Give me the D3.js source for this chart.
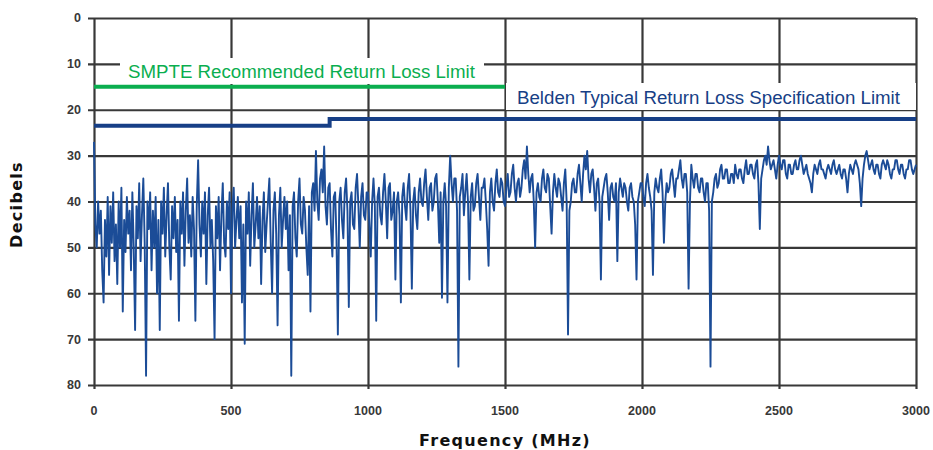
<!DOCTYPE html>
<html lang="en">
    <head>
        <meta charset="utf-8">
        <title>Return Loss</title>
        <script src="https://d3js.org/d3.v7.min.js"></script>
        <style type="text/css">
            body { margin: 0; background: #fff; }

            .grid line {
                stroke: #383838;
                stroke-width: 2.2px;
            }
            .grid path { display: none; }

            .tick-label {
                font-family: "Liberation Sans", Arial, sans-serif;
                font-size: 12.5px;
                font-weight: bold;
                fill: #383838;
            }

            .axis-title {
                font-family: "DejaVu Sans", Verdana, sans-serif;
                font-size: 16px;
                font-weight: bold;
                letter-spacing: 1.3px;
                fill: #111;
            }

            .trace {
                fill: none;
                stroke: #1b4c97;
                stroke-width: 1.9px;
                stroke-linejoin: round;
            }

            .limit-label {
                font-family: "Liberation Sans", Arial, sans-serif;
                font-size: 18.7px;
            }
        </style>
    </head>
    <body>
        <script type="text/javascript">

            const w = 933;
            const h = 450;
            const margin = {top: 18, right: 17, bottom: 65, left: 94};

            // measured return loss (dB), one reading every 5 MHz from 0 to 3000 MHz
            const freqStep = 5;
            const returnLoss = [
                27, 45, 50, 40, 47, 42, 55, 62, 44, 52, 39, 56, 41, 49, 38, 53, 45, 58, 40, 50,
                37, 64, 44, 51, 39, 47, 42, 55, 38, 50, 68, 41, 48, 36, 53, 43, 35, 49, 78, 40,
                46, 38, 55, 42, 50, 39, 60, 44, 68, 40, 47, 37, 52, 43, 36, 50, 57, 41, 48, 39,
                51, 44, 66, 40, 47, 38, 54, 42, 35, 49, 43, 52, 39, 46, 66, 41, 31, 45, 52, 40,
                47, 38, 58, 43, 37, 50, 44, 53, 70, 41, 48, 39, 55, 43, 36, 49, 52, 40, 46, 38,
                60, 42, 37, 50, 44, 39, 48, 41, 62, 45, 71, 40, 47, 38, 54, 43, 36, 50, 45, 39,
                48, 41, 58, 44, 38, 51, 45, 40, 35, 49, 60, 42, 38, 47, 67, 43, 37, 50, 44, 39,
                46, 40, 55, 43, 78, 41, 38, 48, 52, 40, 35, 45, 47, 39, 42, 50, 56, 41, 64, 38,
                36, 42, 29, 40, 44, 35, 33, 38, 28, 41, 45, 37, 36, 46, 52, 39, 38, 48, 69, 40,
                37, 44, 48, 38, 35, 42, 63, 40, 38, 45, 46, 37, 34, 41, 50, 39, 36, 43, 44, 38,
                38, 45, 52, 40, 35, 41, 66, 39, 37, 43, 45, 38, 34, 40, 48, 37, 36, 44, 42, 38,
                57, 40, 38, 43, 62, 39, 36, 41, 44, 37, 34, 42, 59, 40, 37, 43, 46, 38, 35, 40,
                41, 36, 33, 39, 44, 37, 36, 42, 40, 35, 34, 40, 49, 38, 61, 40, 36, 41, 62, 37,
                30, 36, 40, 35, 35, 42, 76, 39, 37, 34, 43, 38, 34, 40, 57, 39, 36, 42, 41, 36,
                34, 39, 44, 37, 37, 35, 40, 46, 54, 38, 35, 40, 42, 36, 33, 38, 39, 35, 36, 40,
                41, 37, 34, 39, 38, 34, 32, 37, 40, 36, 35, 39, 37, 33, 31, 35, 28, 34, 38, 35,
                34, 40, 50, 38, 36, 39, 40, 35, 33, 37, 38, 34, 35, 41, 47, 38, 34, 37, 39, 35,
                36, 39, 42, 36, 33, 40, 69, 42, 40, 36, 35, 38, 38, 34, 32, 36, 40, 34, 30, 33,
                29, 35, 38, 34, 33, 37, 42, 36, 35, 40, 57, 39, 37, 35, 34, 38, 44, 37, 36, 39,
                40, 36, 53, 38, 35, 37, 39, 36, 37, 40, 42, 37, 36, 39, 40, 45, 57, 40, 38, 36,
                36, 39, 41, 36, 34, 37, 39, 42, 56, 38, 35, 37, 38, 35, 33, 38, 49, 40, 36, 38,
                37, 34, 33, 36, 39, 35, 35, 33, 31, 35, 37, 34, 34, 38, 59, 40, 32, 35, 37, 34,
                34, 37, 38, 35, 35, 38, 40, 36, 36, 42, 76, 40, 38, 35, 34, 37, 36, 33, 32, 35,
                35, 33, 33, 36, 36, 34, 34, 36, 32, 34, 35, 33, 33, 35, 36, 33, 31, 34, 34, 32,
                32, 34, 35, 32, 31, 36, 46, 35, 33, 31, 30, 32, 28, 31, 33, 32, 31, 33, 35, 32,
                30, 32, 33, 31, 31, 34, 35, 32, 32, 34, 34, 32, 31, 33, 33, 31, 30, 32, 34, 33,
                32, 34, 35, 36, 38, 34, 32, 33, 34, 32, 31, 33, 33, 34, 35, 33, 32, 33, 34, 32,
                31, 33, 34, 33, 32, 34, 35, 33, 33, 35, 38, 34, 32, 33, 34, 32, 31, 32, 33, 36,
                41, 35, 32, 30, 29, 31, 33, 32, 31, 33, 34, 32, 32, 34, 35, 32, 31, 32, 33, 31,
                32, 34, 35, 33, 33, 31, 31, 33, 34, 32, 32, 34, 35, 33, 33, 31, 31, 33, 34, 33,
                32
            ];

            // limit lines as [start MHz, end MHz, dB] segments
            const smpteLimit = [[0, 1500, 15]];
            const beldenLimit = [[0, 860, 23.5], [860, 3000, 22]];

            const xTicks = [0, 500, 1000, 1500, 2000, 2500, 3000];
            const yTicks = [0, 10, 20, 30, 40, 50, 60, 70, 80];

            const xScale = d3.scaleLinear().domain([0, 3000]).range([margin.left, w - margin.right]);
            const yScale = d3.scaleLinear().domain([0, 80]).range([margin.top, h - margin.bottom]);

            const svg = d3.select("body").append("svg").attr("width", w).attr("height", h);

            // grid lines, with short ticks sticking out left and below
            svg.append("g")
                .attr("class", "grid")
                .attr("transform", "translate(0," + (h - margin.bottom) + ")")
                .call(d3.axisBottom(xScale).tickValues(xTicks)
                    .tickSize(-(h - margin.top - margin.bottom + 4)).tickSizeOuter(0).tickFormat(""))
                .selectAll("line").attr("transform", "translate(0,4)");

            svg.append("g")
                .attr("class", "grid")
                .attr("transform", "translate(" + margin.left + ",0)")
                .call(d3.axisLeft(yScale).tickValues(yTicks)
                    .tickSize(-(w - margin.left - margin.right + 6)).tickSizeOuter(0).tickFormat(""))
                .selectAll("line").attr("transform", "translate(-6,0)");

            svg.append("g").selectAll("text")
                .data(yTicks)
                .enter().append("text")
                .attr("class", "tick-label")
                .attr("x", margin.left - 13)
                .attr("y", d => yScale(d))
                .attr("dy", "0.35em")
                .style("text-anchor", "end")
                .text(d => d);

            svg.append("g").selectAll("text")
                .data(xTicks)
                .enter().append("text")
                .attr("class", "tick-label")
                .attr("x", d => xScale(d))
                .attr("y", h - margin.bottom + 30)
                .style("text-anchor", "middle")
                .text(d => d);

            // measured trace
            const line = d3.line()
                .x((d, i) => xScale(i * freqStep))
                .y(d => yScale(d));

            svg.append("path")
                .attr("class", "trace")
                .attr("d", line(returnLoss));

            // limit lines
            const limitPath = segs => {
                const pts = [];
                segs.forEach(s => { pts.push([s[0], s[2]]); pts.push([s[1], s[2]]); });
                return d3.line().x(d => xScale(d[0])).y(d => yScale(d[1]))(pts);
            };

            svg.append("path")
                .attr("d", limitPath(beldenLimit))
                .attr("fill", "none")
                .attr("stroke", "#173f86")
                .attr("stroke-width", 4);

            svg.append("path")
                .attr("d", limitPath(smpteLimit))
                .attr("fill", "none")
                .attr("stroke", "#0aae4f")
                .attr("stroke-width", 4);

            // labels on white boxes
            svg.append("rect")
                .attr("x", 120).attr("y", 58).attr("width", 364).attr("height", 26)
                .attr("fill", "#fff");
            svg.append("text")
                .attr("class", "limit-label")
                .attr("x", 128).attr("y", 78)
                .attr("fill", "#0aae4f")
                .text("SMPTE Recommended Return Loss Limit");

            svg.append("rect")
                .attr("x", 506).attr("y", 83).attr("width", 410).attr("height", 27)
                .attr("fill", "#fff");
            svg.append("text")
                .attr("class", "limit-label")
                .attr("x", 517).attr("y", 104)
                .attr("fill", "#173f86")
                .text("Belden Typical Return Loss Specification Limit");

            // axis titles
            svg.append("text")
                .attr("class", "axis-title")
                .attr("transform", "translate(22," + ((margin.top + h - margin.bottom) / 2 + 3) + ") rotate(-90)")
                .style("text-anchor", "middle")
                .text("Decibels");

            svg.append("text")
                .attr("class", "axis-title")
                .attr("x", (margin.left + w - margin.right) / 2)
                .attr("y", 446)
                .style("text-anchor", "middle")
                .text("Frequency (MHz)");
        </script>
    </body>
</html>
